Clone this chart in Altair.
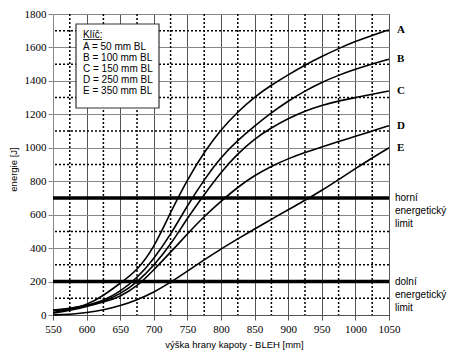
import altair as alt
import pandas as pd

# ---- data ----
bleh = [550, 575, 600, 625, 650, 675, 700, 725, 750, 775, 800,
        825, 850, 875, 900, 925, 950, 975, 1000, 1025, 1050]
curve_A = [15, 32, 60, 115, 190, 265, 400, 615, 810, 975, 1110,
           1215, 1305, 1375, 1437, 1495, 1546, 1594, 1636, 1672, 1705]
curve_B = [25, 38, 55, 85, 140, 220, 335, 480, 655, 810, 945,
           1045, 1130, 1210, 1280, 1340, 1392, 1434, 1470, 1502, 1530]
curve_C = [10, 28, 50, 80, 125, 195, 295, 420, 580, 720, 855,
           965, 1055, 1120, 1175, 1220, 1254, 1280, 1300, 1320, 1340]
curve_D = [30, 40, 55, 75, 110, 170, 270, 375, 485, 590, 680,
           765, 835, 890, 935, 972, 1005, 1038, 1068, 1100, 1132]
curve_E = [0, 3, 14, 30, 55, 90, 135, 195, 262, 330, 395,
           455, 515, 572, 630, 685, 745, 810, 875, 940, 1000]

series_names = ["A", "B", "C", "D", "E"]
series_values = [curve_A, curve_B, curve_C, curve_D, curve_E]

x_ticks = list(range(550, 1051, 50))
y_ticks = list(range(0, 1801, 200))
x_minor = list(range(575, 1050, 50))
y_minor = list(range(100, 1800, 200))
limits = [200, 700]
limit_labels = ["dolní\nenergetický\nlimit", "horní\nenergetický\nlimit"]

legend_title = "Klíč:"
legend_lines = ["A = 50 mm BL", "B = 100 mm BL", "C = 150 mm BL",
                "D = 250 mm BL", "E = 350 mm BL"]

# ---- tables ----
rows = []
for name, vals in zip(series_names, series_values):
    for xv, yv in zip(bleh, vals):
        rows.append({"x": xv, "y": yv, "s": name})
curves_df = pd.DataFrame(rows)
ends_df = pd.DataFrame({"x": [bleh[-1]] * 5,
                        "y": [v[-1] for v in series_values],
                        "s": series_names})
xminor_df = pd.DataFrame({"x": x_minor})
yminor_df = pd.DataFrame({"y": y_minor})
limits_df = pd.DataFrame({"y": limits, "label": limit_labels, "x": [1050, 1050]})
legend_df = pd.DataFrame({"t": legend_lines, "i": list(range(len(legend_lines)))})

SERIF = "Liberation Serif"
SANS = "Liberation Sans"

xscale = alt.Scale(domain=[550, 1050], nice=False, zero=False)
yscale = alt.Scale(domain=[0, 1800], nice=False)

xaxis = alt.Axis(values=x_ticks, title="výška hrany kapoty - BLEH [mm]",
                 format="d", labelFlush=False,
                 titlePadding=5, titleX=181,
                 tickSize=5, tickColor="#555", domainColor="#555",
                 grid=True, gridColor="#555", gridWidth=1, labelPadding=3)
yaxis = alt.Axis(values=y_ticks, title="energie [J]", format="d",
                 labelFlush=False, titlePadding=6, titleY=155,
                 tickSize=5, tickColor="#888", domainColor="#888",
                 grid=True, gridColor="#888", gridWidth=1, labelPadding=2)

X = alt.X("x:Q", scale=xscale, axis=xaxis)
Y = alt.Y("y:Q", scale=yscale, axis=yaxis)

vminor = alt.Chart(xminor_df).mark_rule(color="black", strokeWidth=1.5,
                                        strokeDash=[2, 2]).encode(x=X)
hminor = alt.Chart(yminor_df).mark_rule(color="black", strokeWidth=1.5,
                                        strokeDash=[2, 2]).encode(y=Y)
limit_rules = alt.Chart(limits_df).mark_rule(color="black",
                                             strokeWidth=3.5).encode(y=Y)
lines = alt.Chart(curves_df).mark_line(color="black", strokeWidth=1.6,
                                       interpolate="basis").encode(
    x=X, y=Y, detail="s:N")
end_labels = alt.Chart(ends_df).mark_text(
    align="left", baseline="middle", dx=8, font=SERIF, fontSize=11,
    fontWeight="bold", color="black").encode(x=X, y=Y, text="s:N")
limit_text = alt.Chart(limits_df).mark_text(
    align="left", baseline="middle", dx=6, font=SANS, fontSize=10,
    color="black", lineBreak="\n", lineHeight=13).encode(x=X, y=Y, text="label:N")

box = alt.Chart(pd.DataFrame({"a": [0]})).mark_rect(
    fill="white", stroke="#333", strokeWidth=1.2).encode(
    x=alt.value(23), x2=alt.value(106), y=alt.value(10), y2=alt.value(94))
box_title = alt.Chart(pd.DataFrame({"t": [legend_title]})).mark_text(
    align="left", baseline="alphabetic", font=SANS, fontSize=10,
    color="black").encode(x=alt.value(30), y=alt.value(24), text="t:N")
underline = alt.Chart(pd.DataFrame({"a": [0]})).mark_rule(
    color="black", strokeWidth=0.8).encode(
    x=alt.value(30), x2=alt.value(49), y=alt.value(25.5))
box_lines = alt.Chart(legend_df).transform_calculate(
    py="36 + datum.i * 11").mark_text(
    align="left", baseline="alphabetic", font=SANS, fontSize=10,
    color="black").encode(x=alt.value(30), y=alt.Y("py:Q", scale=None),
                          text="t:N")

chart = alt.layer(
    vminor, hminor, limit_rules, lines, end_labels, limit_text,
    box, box_title, underline, box_lines
).properties(
    width=336, height=301,
    padding={"left": 45, "top": 6, "right": 72, "bottom": 38},
    autosize=alt.AutoSizeParams(type="none"),
    background="white",
).configure_view(
    stroke="#888", strokeWidth=1
).configure_axis(
    labelFont=SERIF, labelFontSize=11, labelColor="black",
    titleFont=SANS, titleFontSize=9.5, titleFontWeight="normal",
    titleColor="black",
)

chart.save("out.html", embed_options={"renderer": "svg", "actions": False})
